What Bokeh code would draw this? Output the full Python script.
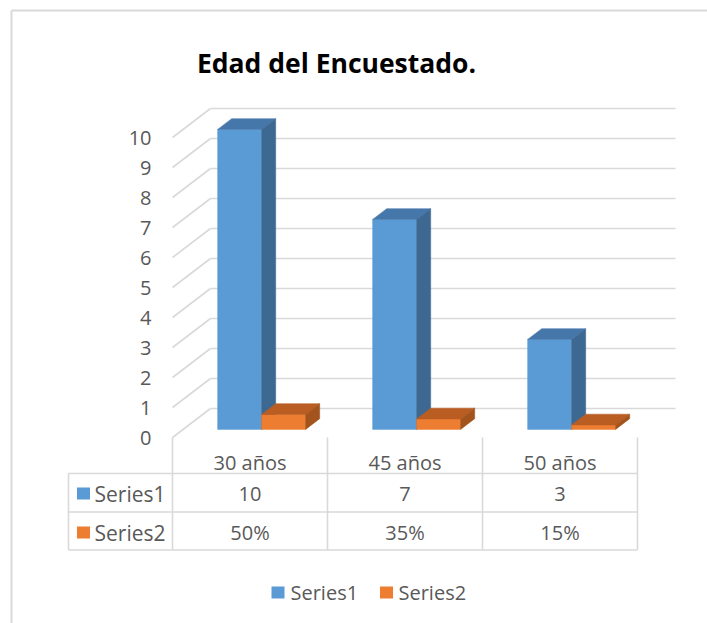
from bokeh.plotting import figure
from bokeh.models import Range1d
from bokeh.embed import file_html
from bokeh.resources import INLINE
from bokeh.core.properties import value

# ---------------- data ----------------
title_text = "Edad del Encuestado."
categories = ["30 años", "45 años", "50 años"]
series_names = ["Series1", "Series2"]
series1 = [10, 7, 3]
series2 = [0.50, 0.35, 0.15]
y_ticks = [0, 1, 2, 3, 4, 5, 6, 7, 8, 9, 10]

series_values = [series1, series2]
series_labels = [[str(v) for v in series1], [f"{round(v * 100)}%" for v in series2]]

# ---------------- layout ----------------
W, H = 707, 623
PAGE = 0
X0, CW = 172, 155      # front-plane x of category 0, px per category
Y0, VU = 437, 30       # front-plane y of value 0, px per value unit
DX = 38 / CW           # full depth offset (category units)
DY = 29 / VU           # full depth offset (value units)
OFF = 34.5 / CW        # bar start inside category
BW = 44 / CW           # bar width
D0, D1 = 0.28, 0.65    # bar depth range

FRONT = ["#5B9BD5", "#ED7D31"]
TOP = ["#4677AA", "#B95D22"]
SIDE = ["#3C6892", "#A3531C"]
GRID = "#D9D9D9"
TXT = "#595959"
FONT = value("Open Sans")


def gx(px):
    return (px - X0) / CW


def gy(py):
    return (Y0 - py) / VU


p = figure(width=W, height=H,
           x_range=Range1d(gx(PAGE), gx(PAGE + W)),
           y_range=Range1d(gy(PAGE + H), gy(PAGE)),
           x_axis_type=None, y_axis_type=None,
           output_backend="svg", toolbar_location=None, min_border=0)
p.outline_line_color = None
p.background_fill_color = "white"
p.border_fill_color = "white"

# chart border (left and top visible)
p.line([gx(11), gx(11)], [gy(10), gy(PAGE + H + 5)], line_color=GRID, line_width=2)
p.line([gx(11), gx(PAGE + W + 5)], [gy(10), gy(10)], line_color=GRID, line_width=2)

# back wall gridlines + left diagonal
ncat = len(categories)
p.segment(x0=[DX] * len(y_ticks), y0=[t + DY for t in y_ticks],
          x1=[ncat + DX] * len(y_ticks), y1=[t + DY for t in y_ticks],
          line_color=GRID, line_width=1.6)
p.segment(x0=[0] * len(y_ticks), y0=y_ticks,
          x1=[DX] * len(y_ticks), y1=[t + DY for t in y_ticks],
          line_color=GRID, line_width=1.6)

# bars
xs, ys, cols = [], [], []
for i in range(ncat):
    for s, vals in enumerate(series_values):
        v = vals[i]
        xl = i + OFF + s * BW
        xr = xl + BW
        a0x, a1x = D0 * DX, D1 * DX
        a0y, a1y = D0 * DY, D1 * DY
        xs.append([xl + a0x, xr + a0x, xr + a0x, xl + a0x])
        ys.append([a0y, a0y, v + a0y, v + a0y])
        cols.append(FRONT[s])
        xs.append([xl + a0x, xr + a0x, xr + a1x, xl + a1x])
        ys.append([v + a0y, v + a0y, v + a1y, v + a1y])
        cols.append(TOP[s])
        xs.append([xr + a0x, xr + a1x, xr + a1x, xr + a0x])
        ys.append([a0y, a1y, v + a1y, v + a0y])
        cols.append(SIDE[s])
p.patches(xs=xs, ys=ys, fill_color=cols, line_color=cols, line_width=0.5)

# y tick labels
p.text(x=[gx(151)] * len(y_ticks), y=y_ticks, text=[str(t) for t in y_ticks],
       text_align="right", text_baseline="middle", text_font=FONT,
       text_font_size=value("20px"), text_color=TXT)

# data table
row_y = [473, 511.5, 549.5]
p.segment(x0=[gx(68)] * 3, y0=[gy(y) for y in row_y],
          x1=[ncat] * 3, y1=[gy(y) for y in row_y], line_color=GRID, line_width=1.6)
p.segment(x0=list(range(ncat + 1)), y0=[0] * (ncat + 1),
          x1=list(range(ncat + 1)), y1=[gy(549.5)] * (ncat + 1),
          line_color=GRID, line_width=1.6)
p.segment(x0=[gx(68)], y0=[gy(473)], x1=[gx(68)], y1=[gy(549.5)],
          line_color=GRID, line_width=1.6)

p.text(x=[i + 0.5 for i in range(ncat)], y=[gy(462)] * ncat, text=categories,
       text_align="center", text_baseline="middle", text_font=FONT,
       text_font_size=value("20px"), text_color=TXT)
row_centers = [493, 532]
for s in range(len(series_names)):
    p.text(x=[i + 0.5 for i in range(ncat)], y=[gy(row_centers[s])] * ncat,
           text=series_labels[s], text_align="center", text_baseline="middle",
           text_font=FONT, text_font_size=value("20px"), text_color=TXT)
p.rect(x=[gx(83)] * 2, y=[gy(c) for c in row_centers], width=13, height=12,
       width_units="screen", height_units="screen", fill_color=FRONT, line_color=None)
p.text(x=[gx(94)] * 2, y=[gy(c) for c in row_centers], text=series_names,
       text_align="left", text_baseline="middle", text_font=FONT,
       text_font_size=value("21px"), text_color=TXT)

# legend
leg_sq = [277.5, 386]
leg_tx = [290, 398]
p.rect(x=[gx(v) for v in leg_sq], y=[gy(592)] * 2, width=13, height=12,
       width_units="screen", height_units="screen", fill_color=FRONT, line_color=None)
p.text(x=[gx(v) for v in leg_tx], y=[gy(592)] * 2, text=series_names,
       text_align="left", text_baseline="middle", text_font=FONT,
       text_font_size=value("20px"), text_color=TXT)

# title
p.text(x=[gx(336)], y=[gy(62)], text=[title_text], text_align="center",
       text_baseline="alphabetic", text_font=FONT, text_font_style="bold",
       text_font_size=value("26.5px"), text_color="black")

open("out.html", "w").write(file_html(p, INLINE))
